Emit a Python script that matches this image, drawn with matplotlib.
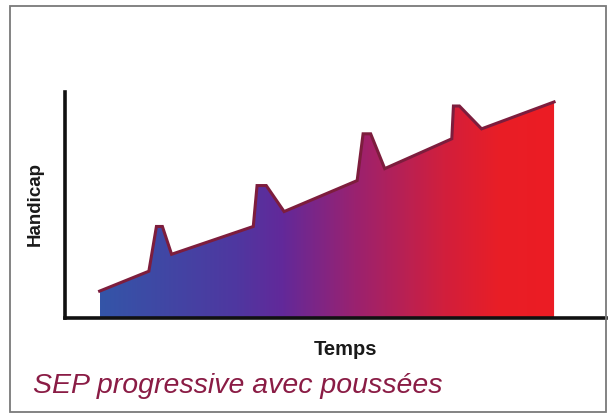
import matplotlib
matplotlib.use("Agg")
import matplotlib.pyplot as plt
import numpy as np
from matplotlib.colors import LinearSegmentedColormap
from matplotlib.patches import Rectangle

# Data
temps = [6.4, 15.5, 16.9, 18.0, 19.7, 34.8, 35.5, 37.2, 40.5, 54.0, 55.1, 56.5,
         59.1, 71.5, 71.8, 72.9, 77.0, 90.4]
handicap = [11.9, 20.7, 40.5, 40.5, 28.2, 40.5, 58.6, 58.6, 47.1, 60.8, 81.5, 81.5,
            66.1, 79.3, 93.8, 93.8, 83.7, 95.6]

xlabel = "Temps"
ylabel = "Handicap"
caption = "SEP progressive avec poussées"

grad_stops = [(0.0, "#3455a8"), (0.3, "#4f37a0"), (0.4, "#62299a"), (0.56, "#9a2270"),
              (0.76, "#d21f3c"), (0.88, "#e91e26"), (1.0, "#ec1c24")]

plt.rcParams['font.family'] = ['Liberation Sans', 'DejaVu Sans']

fig = plt.figure(figsize=(6.08, 4.14), dpi=100)
fig.patch.set_facecolor("white")

# outer border
fig.patches.append(Rectangle((10/608, 1/414), 596/608, 406/414, transform=fig.transFigure,
                             fill=False, edgecolor="#7a7a7a", linewidth=1.3))

ax = fig.add_axes([65/608, 1 - 319/414, 541/608, 226/414])
ax.set_xlim(0, 100)
ax.set_ylim(0, 100)

poly = ax.fill_between(temps, handicap, 0, facecolor="none", edgecolor="none")
cmap = LinearSegmentedColormap.from_list("sep", grad_stops)
grad = np.linspace(0, 1, 512).reshape(1, -1)
im = ax.imshow(grad, cmap=cmap, aspect="auto",
               extent=[temps[0], temps[-1], 0, max(handicap)], origin="lower", zorder=1)
im.set_clip_path(poly.get_paths()[0], transform=ax.transData)

ax.plot(temps, handicap, color="#7d1d3d", linewidth=2.2, solid_joinstyle="miter",
        zorder=2)

for s in ["top", "right"]:
    ax.spines[s].set_visible(False)
for s in ["left", "bottom"]:
    ax.spines[s].set_linewidth(2.6)
    ax.spines[s].set_color("#111111")
    ax.spines[s].set_zorder(3)
ax.set_xticks([])
ax.set_yticks([])

fig.text(345/608, 1 - 350/414, xlabel, ha="center", va="center",
         fontsize=14.5, fontweight="bold", color="#1a1a1a")
fig.text(35/608, 1 - 204/414, ylabel, ha="center", va="center", rotation=90,
         fontsize=13.5, fontweight="bold", color="#1a1a1a")
fig.text(33/608, 1 - 393/414, caption, ha="left", va="baseline",
         fontsize=20.5, fontstyle="italic", color="#8a1c45")

fig.savefig("out.png", dpi=100, facecolor="white")
